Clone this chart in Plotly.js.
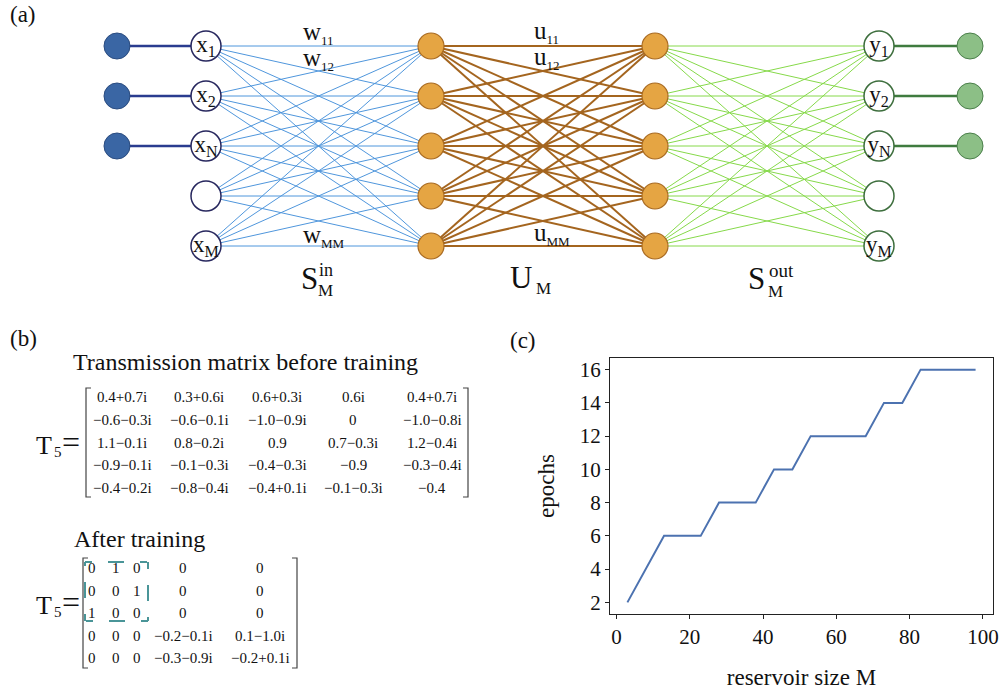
<!DOCTYPE html>
<html><head><meta charset="utf-8">
<script src="https://cdn.plot.ly/plotly-3.0.1.min.js"></script>
<style>html,body{margin:0;padding:0;background:#fff}#chart{width:1008px;height:692px}</style>
</head><body><div id="chart"></div>
<script>
// ---------------- data ----------------
const reservoirSize = [3, 8, 13, 18, 23, 28, 33, 38, 43, 48, 53, 58, 63, 68, 73, 78, 83, 88, 93, 98];
const epochs        = [2, 4, 6, 6, 6, 8, 8, 8, 10, 10, 12, 12, 12, 12, 14, 14, 16, 16, 16, 16];
const xTicks = [0, 20, 40, 60, 80, 100];
const yTicks = [2, 4, 6, 8, 10, 12, 14, 16];

const sourceCount = 3;   // N input signals
const modeCount = 5;     // M modes
const inputLabels  = ['x<sub>1</sub>', 'x<sub>2</sub>', 'x<sub>N</sub>', ' ', 'x<sub>M</sub>'];
const outputLabels = ['y<sub>1</sub>', 'y<sub>2</sub>', 'y<sub>N</sub>', ' ', 'y<sub>M</sub>'];

const M = '\u2212';
const beforeMatrix = [
  ['0.4+0.7i', '0.3+0.6i', '0.6+0.3i', '0.6i', '0.4+0.7i'],
  [M+'0.6'+M+'0.3i', M+'0.6'+M+'0.1i', M+'1.0'+M+'0.9i', '0', M+'1.0'+M+'0.8i'],
  ['1.1'+M+'0.1i', '0.8'+M+'0.2i', '0.9', '0.7'+M+'0.3i', '1.2'+M+'0.4i'],
  [M+'0.9'+M+'0.1i', M+'0.1'+M+'0.3i', M+'0.4'+M+'0.3i', M+'0.9', M+'0.3'+M+'0.4i'],
  [M+'0.4'+M+'0.2i', M+'0.8'+M+'0.4i', M+'0.4+0.1i', M+'0.1'+M+'0.3i', M+'0.4']
];
const afterMatrix = [
  ['0', '1', '0', '0', '0'],
  ['0', '0', '1', '0', '0'],
  ['1', '0', '0', '0', '0'],
  ['0', '0', '0', M+'0.2'+M+'0.1i', '0.1'+M+'1.0i'],
  ['0', '0', '0', M+'0.3'+M+'0.9i', M+'0.2+0.1i']
];

// ---------------- layout helpers (pixel space of the page) ----------------
const FONT = 'Liberation Serif, Times New Roman, serif';
const col = {source: 117, input: 206, res1: 431, res2: 655, output: 879, sink: 970};
const rowY = i => 46 + 50 * i;
const modes = Array.from({length: modeCount}, (_, i) => i);
const sources = Array.from({length: sourceCount}, (_, i) => i);

function fullEdges(x0, x1, color, width) {
  const xs = [], ys = [];
  modes.forEach(i => modes.forEach(j => { xs.push(x0, x1, null); ys.push(rowY(i), rowY(j), null); }));
  return {type: 'scatter', mode: 'lines', x: xs, y: ys, xaxis: 'x2', yaxis: 'y2',
          line: {color: color, width: width}, hoverinfo: 'skip'};
}
function straightEdges(x0, x1, color, width) {
  const xs = [], ys = [];
  sources.forEach(i => { xs.push(x0, x1, null); ys.push(rowY(i), rowY(i), null); });
  return {type: 'scatter', mode: 'lines', x: xs, y: ys, xaxis: 'x2', yaxis: 'y2',
          line: {color: color, width: width}, hoverinfo: 'skip'};
}
function nodes(x, idx, size, fill, border, bw, labels) {
  return {type: 'scatter', mode: labels ? 'markers+text' : 'markers',
          x: idx.map(() => x), y: idx.map(rowY), xaxis: 'x2', yaxis: 'y2',
          marker: {size: size, color: fill, line: {color: border, width: bw}},
          text: labels || undefined, textposition: 'middle center',
          textfont: {family: FONT, size: 23, color: '#111'}, hoverinfo: 'skip', cliponaxis: false};
}

const traces = [
  fullEdges(col.input, col.res1, '#4f96dc', 1),
  fullEdges(col.res1, col.res2, '#a4651f', 2),
  fullEdges(col.res2, col.output, '#86d94a', 1),
  straightEdges(col.source, col.input, '#2a3c8f', 2.5),
  straightEdges(col.output, col.sink, '#3f7b3f', 2.5),
  nodes(col.source, sources, 26, '#3a66a4', '#2b4c80', 1),
  nodes(col.input, modes, 30, '#ffffff', '#27275e', 1.5, inputLabels),
  nodes(col.res1, modes, 26, '#e5a543', '#a86a22', 1.2),
  nodes(col.res2, modes, 26, '#e5a543', '#a86a22', 1.2),
  nodes(col.output, modes, 30, '#ffffff', '#3d6e3d', 1.5, outputLabels),
  nodes(col.sink, sources, 26, '#8cbf86', '#4a7f4a', 1),
  {type: 'scatter', mode: 'lines', x: reservoirSize, y: epochs, xaxis: 'x', yaxis: 'y',
   line: {color: '#4c72b0', width: 2}, hoverinfo: 'skip'}
];

// ---------------- annotations ----------------
const ann = [];
function txt(x, y, text, size, xanchor, yanchor) {
  ann.push({xref: 'x2', yref: 'y2', x: x, y: y, text: text, showarrow: false,
            xanchor: xanchor || 'center', yanchor: yanchor || 'middle',
            font: {family: FONT, size: size, color: '#111'}});
}
const sub = s => "<sub><span style='font-size:13px'>" + s + "</span></sub>";
// panel labels
txt(8, 14, '(a)', 23, 'left');
txt(8, 338, '(b)', 23, 'left');
txt(508, 340, '(c)', 23, 'left');
// edge labels
txt(301, 33, 'w' + sub('11'), 25, 'left');
txt(301, 59, 'w' + sub('12'), 25, 'left');
txt(301, 236, 'w' + sub('MM'), 25, 'left');
txt(532, 32, 'u' + sub('11'), 25, 'left');
txt(532, 58, 'u' + sub('12'), 25, 'left');
txt(532, 234, 'u' + sub('MM'), 25, 'left');
// operator labels
txt(309, 278, 'S', 31); txt(317, 270, 'in', 18, 'left'); txt(316, 290, 'M', 17, 'left');
txt(521, 277, 'U', 31); txt(534, 288, 'M', 17, 'left');
txt(756, 278, 'S', 31); txt(767, 270, 'out', 19, 'left'); txt(766, 291, 'M', 17, 'left');
// panel b
txt(245, 362, 'Transmission matrix before training', 24);
txt(139, 539, 'After training', 24);
const beforeCols = [122, 199, 277, 353, 432];
const afterCols = [92, 116, 137, 183, 260];
beforeMatrix.forEach((row, r) => row.forEach((v, c) => txt(beforeCols[c], 397 + 22.8 * r, v, 15)));
afterMatrix.forEach((row, r) => row.forEach((v, c) => txt(afterCols[c], 568 + 22.5 * r, v, 15)));
[[445, 452], [605, 612]].forEach(([yc, ys]) => {
  txt(44, yc, 'T', 26); txt(58, ys, '5', 15); txt(71, yc - 3, '=', 32);
});

// ---------------- shapes: matrix brackets + highlight box ----------------
const shapes = [];
function bracket(x, top, bottom, dir) {
  const t = 5 * dir;
  shapes.push({type: 'path', xref: 'x2', yref: 'y2',
    path: `M${x + t},${top} L${x},${top} L${x},${bottom} L${x + t},${bottom}`,
    line: {color: '#444', width: 1.2}});
}
bracket(86, 388, 497, 1); bracket(468, 388, 497, -1);
bracket(83, 558, 668, 1); bracket(297, 558, 668, -1);
const box = {x0: 85, x1: 148, y0: 562, y1: 621};
[[box.x0, box.y0, box.x1, box.y0], [box.x1, box.y0, box.x1, box.y1],
 [box.x1, box.y1, box.x0, box.y1], [box.x0, box.y1, box.x0, box.y0]].forEach(([a, b, c, d]) => {
  shapes.push({type: 'line', xref: 'x2', yref: 'y2', x0: a, y0: b, x1: c, y1: d,
               line: {color: '#4a9598', width: 2, dash: '7px,16px,16px,16px,7px'}});
});

const axisCommon = {
  showline: true, linecolor: '#222', linewidth: 1, mirror: true, showgrid: false, zeroline: false,
  ticks: 'outside', ticklen: 4, tickwidth: 1, tickcolor: '#222',
  tickfont: {family: FONT, size: 21, color: '#111'}, fixedrange: true
};
const layout = {
  width: 1008, height: 692, margin: {l: 0, r: 0, t: 0, b: 0},
  paper_bgcolor: '#ffffff', plot_bgcolor: 'rgba(0,0,0,0)', showlegend: false,
  font: {family: FONT, color: '#111'},
  xaxis: Object.assign({}, axisCommon, {
    domain: [610 / 1008, 993 / 1008], range: [-1.75, 102.75], tickvals: xTicks, anchor: 'y',
    title: {text: 'reservoir size M', font: {family: FONT, size: 23, color: '#111'}, standoff: 20}
  }),
  yaxis: Object.assign({}, axisCommon, {
    domain: [(692 - 614) / 692, (692 - 358) / 692], range: [1.3, 16.7], tickvals: yTicks, anchor: 'x',
    title: {text: 'epochs', font: {family: FONT, size: 23, color: '#111'}, standoff: 18}
  }),
  xaxis2: {domain: [0, 1], range: [0, 1008], visible: false, fixedrange: true, anchor: 'y2'},
  yaxis2: {domain: [0, 1], range: [692, 0], visible: false, fixedrange: true, anchor: 'x2'},
  annotations: ann, shapes: shapes, hovermode: false
};
Plotly.newPlot('chart', traces, layout, {staticPlot: true, displayModeBar: false});
</script>
</body></html>
